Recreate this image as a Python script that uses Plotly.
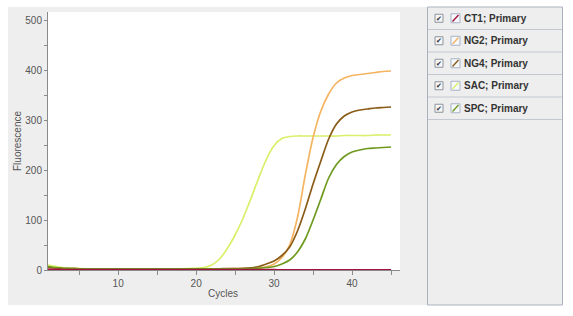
import plotly.graph_objects as go

# ---------------- data ----------------
cycles = list(range(1, 46))

series_names = ["CT1; Primary", "NG2; Primary", "NG4; Primary", "SAC; Primary", "SPC; Primary"]
series_colors = ["#a3123f", "#f5b462", "#8a5c18", "#d9f06a", "#6f9a1e"]

ct1 = [1.5, 1.2, 1.0, 0.9, 0.8,
       0.8, 0.7, 0.7, 0.7, 0.6,
       0.6, 0.6, 0.6, 0.6, 0.6,
       0.6, 0.6, 0.6, 0.6, 0.6,
       0.6, 0.6, 0.6, 0.6, 0.6,
       0.6, 0.6, 0.6, 0.6, 0.6,
       0.5, 0.5, 0.5, 0.5, 0.5,
       0.5, 0.5, 0.5, 0.5, 0.5,
       0.5, 0.5, 0.5, 0.5, 0.5]

ng2 = [5, 4, 3, 3, 2.5,
       2.5, 2.5, 2.5, 2.5, 2.5,
       2.5, 2.5, 2.5, 2.5, 2.5,
       2.5, 2.5, 2.5, 2.5, 2.5,
       2.5, 2.5, 2.5, 2.5, 3,
       3, 3.5, 4.5, 6.5, 12,
       25, 50, 105, 190, 265,
       318, 352, 374, 384, 389,
       391, 393, 395, 397, 398]

ng4 = [5, 4, 3, 3, 2.5,
       2.5, 2.5, 2.5, 2.5, 2.5,
       2.5, 2.5, 2.5, 2.5, 2.5,
       2.5, 2.5, 2.5, 2.5, 2.5,
       2.5, 2.5, 2.5, 3, 3,
       3.5, 4.5, 7, 12, 18,
       29, 46, 78, 122, 172,
       218, 262, 292, 308, 316,
       320, 322, 324, 325, 326]

sac = [10, 7, 4.5, 3.5, 3,
       2.5, 2.5, 2.5, 2.5, 2.5,
       2.5, 2.5, 2.5, 2.5, 2.5,
       2.5, 2.5, 2.5, 3, 3.5,
       5, 10, 22, 43, 70,
       103, 142, 183, 221, 249,
       263, 267, 268, 268, 268,
       268, 268, 268, 269, 269,
       269, 269, 270, 270, 270]

spc = [7, 5, 3.5, 3, 2.5,
       2.5, 2.5, 2.5, 2.5, 2.5,
       2.5, 2.5, 2.5, 2.5, 2.5,
       2.5, 2.5, 2.5, 2.5, 2.5,
       2.5, 2.5, 2.5, 2.5, 2.5,
       2.5, 3, 3.5, 5, 7,
       12, 20, 36, 62, 100,
       142, 184, 211, 227, 236,
       240, 243, 244, 245, 246]

series_values = [ct1, ng2, ng4, sac, spc]

x_title = "Cycles"
y_title = "Fluorescence"

# ---------------- layout helpers ----------------
W, H = 573, 316
L, R, T, B = 48, 400, 12, 270  # plot area in pixels


def px(xp):
    return (xp - L) / (R - L)


def py(yp):
    return (B - yp) / (B - T)


fig = go.Figure()

draw_order = [3, 1, 2, 4, 0]
for i in draw_order:
    fig.add_trace(go.Scatter(
        x=cycles, y=series_values[i], mode="lines", name=series_names[i],
        line=dict(color=series_colors[i], width=1.7, shape="spline", smoothing=0.8),
        showlegend=False,
    ))

shapes = []
# main grey panel
shapes.append(dict(type="rect", xref="paper", yref="paper", x0=px(8), x1=px(427),
                   y0=py(305), y1=py(7), fillcolor="#eeeeee", line=dict(width=0), layer="below"))
# white plot area
shapes.append(dict(type="rect", xref="paper", yref="paper", x0=0, x1=1, y0=0, y1=1,
                   fillcolor="#ffffff", line=dict(width=0), layer="below"))
# legend panel
shapes.append(dict(type="rect", xref="paper", yref="paper", x0=px(427.5), x1=px(562.5),
                   y0=py(305), y1=py(7), fillcolor="#eeeeee",
                   line=dict(color="#a9b1bf", width=1), layer="below"))

annotations = []
row_top = 7
row_h = 22.5
for k, name in enumerate(series_names):
    top = row_top + k * row_h
    bot = top + row_h
    cy = (top + bot) / 2
    # row separator
    shapes.append(dict(type="line", xref="paper", yref="paper", x0=px(428), x1=px(562),
                       y0=py(bot), y1=py(bot), line=dict(color="#c3c8d2", width=1)))
    # checkbox
    shapes.append(dict(type="rect", xref="paper", yref="paper", x0=px(435), x1=px(443),
                       y0=py(cy + 4), y1=py(cy - 4), fillcolor="#f7f7f7",
                       line=dict(color="#8d939c", width=1)))
    annotations.append(dict(x=px(439.2), y=py(cy + 0.3), xref="paper", yref="paper",
                            text="✔", showarrow=False, xanchor="center", yanchor="middle",
                            font=dict(family="DejaVu Sans", size=7, color="#1f2a3a")))
    # icon box
    shapes.append(dict(type="rect", xref="paper", yref="paper", x0=px(451), x1=px(460),
                       y0=py(cy + 4.5), y1=py(cy - 4.5), fillcolor="#f6f8fc",
                       line=dict(color="#a7b3c7", width=1)))
    shapes.append(dict(type="line", xref="paper", yref="paper", x0=px(452.5), x1=px(458.5),
                       y0=py(cy + 3.2), y1=py(cy - 3.2),
                       line=dict(color=series_colors[k], width=1.4)))
    annotations.append(dict(x=px(462), y=py(cy), xref="paper", yref="paper",
                            text="<b>" + name + "</b>", showarrow=False, xanchor="left",
                            yanchor="middle",
                            font=dict(family="Liberation Sans", size=10, color="#333333")))

# axis titles
annotations.append(dict(x=px(223), y=py(293), xref="paper", yref="paper", text=x_title,
                        showarrow=False, xanchor="center", yanchor="middle",
                        font=dict(family="Liberation Sans", size=10, color="#555555")))
annotations.append(dict(x=px(17), y=py(141), xref="paper", yref="paper", text=y_title,
                        showarrow=False, xanchor="center", yanchor="middle", textangle=-90,
                        font=dict(family="Liberation Sans", size=10, color="#555555")))

fig.update_layout(
    width=W, height=H,
    margin=dict(l=L, r=W - R, t=T, b=H - B, pad=0),
    paper_bgcolor="#ffffff", plot_bgcolor="#ffffff",
    shapes=shapes, annotations=annotations,
    font=dict(family="Liberation Sans", size=10, color="#555555"),
    xaxis=dict(range=[1, 46.15], tick0=0, dtick=10, ticks="outside", ticklen=4,
               tickcolor="#8a8a8a", showline=True, linecolor="#8a8a8a", linewidth=1,
               showgrid=False, zeroline=False,
               minor=dict(dtick=5, tick0=0, ticks="outside", ticklen=4, tickcolor="#8a8a8a"),
               tickfont=dict(size=10, color="#555555")),
    yaxis=dict(range=[0, 516], tick0=0, dtick=100, ticks="outside", ticklen=3,
               tickcolor="#8a8a8a", showline=True, linecolor="#8a8a8a", linewidth=1,
               showgrid=False, zeroline=False,
               minor=dict(dtick=50, tick0=0, ticks="outside", ticklen=3, tickcolor="#8a8a8a"),
               tickfont=dict(size=10, color="#555555")),
    showlegend=False,
)

fig.write_html("out.html", config={"displayModeBar": False})
